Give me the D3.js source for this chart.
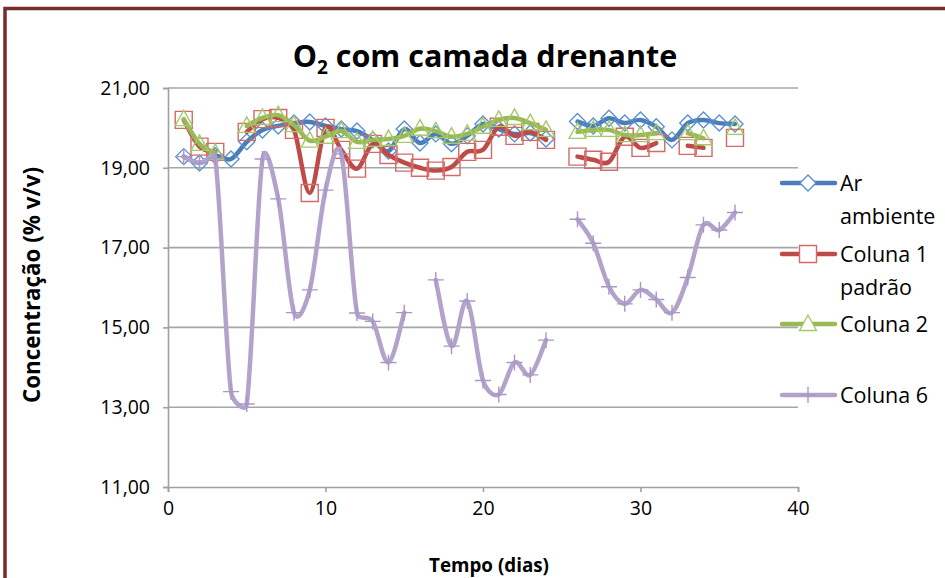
<!DOCTYPE html>
<html><head><meta charset="utf-8">
<script src="https://cdn.jsdelivr.net/npm/d3@7/dist/d3.min.js"></script>
<style>body{margin:0;background:#fff}svg{display:block}text{font-family:"Open Sans",sans-serif}</style>
</head><body>
<svg id="c" width="945" height="578"></svg>
<script>
const days = [1,2,3,4,5,6,7,8,9,10,11,12,13,14,15,16,17,18,19,20,21,22,23,24,25,26,27,28,29,30,31,32,33,34,35,36];
const arAmbiente = [19.28,19.12,19.30,19.22,19.65,19.95,20.05,20.12,20.15,20.05,19.97,19.92,19.70,19.42,19.97,19.62,19.85,19.60,19.80,20.10,19.97,19.85,19.87,19.72,null,20.16,20.05,20.24,20.12,20.20,20.03,19.70,20.12,20.20,20.12,20.10];
const coluna1 = [20.20,19.53,19.40,null,19.90,20.22,20.25,19.95,18.37,20.00,19.45,18.98,19.60,19.32,19.13,19.00,18.93,19.02,19.40,19.45,20.03,19.80,19.90,19.70,null,19.28,19.20,19.15,19.78,19.50,19.62,null,19.55,19.50,null,19.75];
const coluna2 = [20.22,19.60,19.37,null,20.05,20.25,20.32,20.07,19.68,19.78,19.92,19.65,19.70,19.72,19.80,19.98,19.92,19.78,19.85,20.03,20.20,20.25,20.12,19.95,null,19.90,19.95,19.95,19.82,19.82,19.87,null,19.87,19.74,null,20.00];
const coluna6 = [19.28,19.12,19.24,13.39,13.08,19.22,18.22,15.37,15.94,18.44,19.35,15.36,15.15,14.12,15.37,null,16.19,14.53,15.66,13.67,13.32,14.12,13.81,14.68,null,17.71,17.11,16.02,15.59,15.94,15.70,15.37,16.25,17.57,17.44,17.88];
const seriesNames = ["Ar ambiente","Coluna 1 padrão","Coluna 2","Coluna 6"];
const legendLines = [["Ar","ambiente"],["Coluna 1","padrão"],["Coluna 2"],["Coluna 6"]];
const yTicks = [11,13,15,17,19,21];
const xTicks = [0,10,20,30,40];

const colors = ["#4a7ebb","#be4b48","#98b954","#b3a3cb"];
const markerColors = ["#5b8fd0","#d46a67","#a6c96a","#a898c6"];
const shapes = ["diamond","square","triangle","plus"];
const values = [arAmbiente, coluna1, coluna2, coluna6];

const svg = d3.select("#c");
const L = 168, R = 798, T = 88, B = 487;

svg.append("rect").attr("x",5).attr("y",8.5).attr("width",960).attr("height",620)
  .attr("fill","#fff").attr("stroke","#742d2d").attr("stroke-width",3.5);

const x = d3.scaleLinear().domain([0,40]).range([L,R]);
const y = d3.scaleLinear().domain([11,21]).range([B,T]);

svg.append("g").selectAll("line").data(yTicks.slice(1)).join("line")
  .attr("x1",L).attr("x2",R).attr("y1",d=>y(d)).attr("y2",d=>y(d))
  .attr("stroke","#a6a6a6").attr("stroke-width",1.6);

const fmt = d => d.toFixed(2).replace(".",",");
const yAxis = svg.append("g").attr("transform",`translate(${L},0)`)
  .call(d3.axisLeft(y).tickValues(yTicks).tickFormat(fmt).tickSize(5).tickPadding(13));
const xAxis = svg.append("g").attr("transform",`translate(0,${B})`)
  .call(d3.axisBottom(x).tickValues(xTicks).tickSize(5).tickPadding(9));
[yAxis,xAxis].forEach(a=>{
  a.select(".domain").attr("stroke","#a0a0a0").attr("stroke-width",1.6);
  a.selectAll(".tick line").attr("stroke","#a0a0a0").attr("stroke-width",1.6);
  a.selectAll("text").attr("fill","#000").style("font-family","'Open Sans',sans-serif").style("font-size","19.5px");
});

function markerPath(shape){
  if(shape==="diamond") return "M0,-8L8,0L0,8L-8,0Z";
  if(shape==="square") return "M-8.5,-8.5H8.5V8.5H-8.5Z";
  if(shape==="triangle") return "M0,-9L8.5,6.5H-8.5Z";
  return "M-8,0H8M0,-8V8";
}

// Excel-like smoothing: Catmull-Rom arms (P[i+1]-P[i-1])/6, each arm capped at half its segment length
function smoothPath(pts){
  const p = d3.path();
  const n = pts.length;
  if(n===0) return "";
  p.moveTo(pts[0][0],pts[0][1]);
  if(n===1) return p.toString();
  const dist=(a,b)=>Math.hypot(b[0]-a[0],b[1]-a[1]);
  const arm = (i,segLen)=>{
    const a = pts[Math.max(0,i-1)], b = pts[Math.min(n-1,i+1)];
    let vx=(b[0]-a[0])/6, vy=(b[1]-a[1])/6;
    const m=Math.hypot(vx,vy), lim=segLen/2;
    if(m>lim && m>0){ vx*=lim/m; vy*=lim/m; }
    return [vx,vy];
  };
  for(let i=0;i<n-1;i++){
    const a=pts[i], b=pts[i+1], d=dist(a,b);
    const t1=arm(i,d), t2=arm(i+1,d);
    p.bezierCurveTo(a[0]+t1[0], a[1]+t1[1], b[0]-t2[0], b[1]-t2[1], b[0], b[1]);
  }
  return p.toString();
}
function segments(pts){
  const segs=[]; let cur=[];
  pts.forEach(q=>{ if(q[1]===null){ if(cur.length) segs.push(cur); cur=[]; } else cur.push([x(q[0]),y(q[1])]); });
  if(cur.length) segs.push(cur);
  return segs;
}

values.forEach((vals,i)=>{
  const pts = days.map((d,j)=>[d,vals[j]]);
  const g = svg.append("g");
  g.selectAll("path.l").data(segments(pts)).join("path").attr("class","l")
    .attr("d",smoothPath).attr("fill","none")
    .attr("stroke",colors[i]).attr("stroke-width",4.5).attr("stroke-linecap","round").attr("stroke-linejoin","round");
  g.selectAll("path.m").data(pts.filter(p=>p[1]!==null)).join("path").attr("class","m")
    .attr("transform",p=>`translate(${x(p[0])},${y(p[1])})`)
    .attr("d",markerPath(shapes[i])).attr("fill","none")
    .attr("stroke",markerColors[i]).attr("stroke-width",1.4);
});

const legY = [183,254,324,395];
const lg = svg.append("g");
legendLines.forEach((lines,i)=>{
  const yy = legY[i];
  lg.append("line").attr("x1",782).attr("x2",835).attr("y1",yy).attr("y2",yy)
    .attr("stroke",colors[i]).attr("stroke-width",4.5).attr("stroke-linecap","round");
  lg.append("path").attr("transform",`translate(808,${yy})`).attr("d",markerPath(shapes[i]))
    .attr("fill", shapes[i]==="plus"?"none":"#fff").attr("stroke",markerColors[i]).attr("stroke-width",1.4);
  lines.forEach((t,k)=>{
    lg.append("text").attr("x",840).attr("y",yy+8+k*33).text(t).style("font-size","21.5px").attr("fill","#000");
  });
});

function fit(sel, target){
  const w = sel.node().getComputedTextLength();
  const fs = parseFloat(sel.style("font-size"));
  sel.style("font-size",(fs*target/w)+"px");
}

const title = svg.append("text").attr("x",485).attr("y",67).attr("text-anchor","middle")
  .style("font-weight","bold").style("font-size","30.5px");
title.append("tspan").text("O");
title.append("tspan").text("2").style("font-size","19px").attr("dy",7);
title.append("tspan").text(" com camada drenante").attr("dy",-7);

const xt = svg.append("text").attr("x",489).attr("y",572).attr("text-anchor","middle")
  .style("font-weight","bold").style("font-size","17px").text("Tempo (dias)");
fit(xt,120);
const yt = svg.append("text").attr("transform","translate(40,285) rotate(-90)").attr("text-anchor","middle")
  .style("font-weight","bold").style("font-size","17px").text("Concentração (% v/v)");
fit(yt,236);
</script>
</body></html>
